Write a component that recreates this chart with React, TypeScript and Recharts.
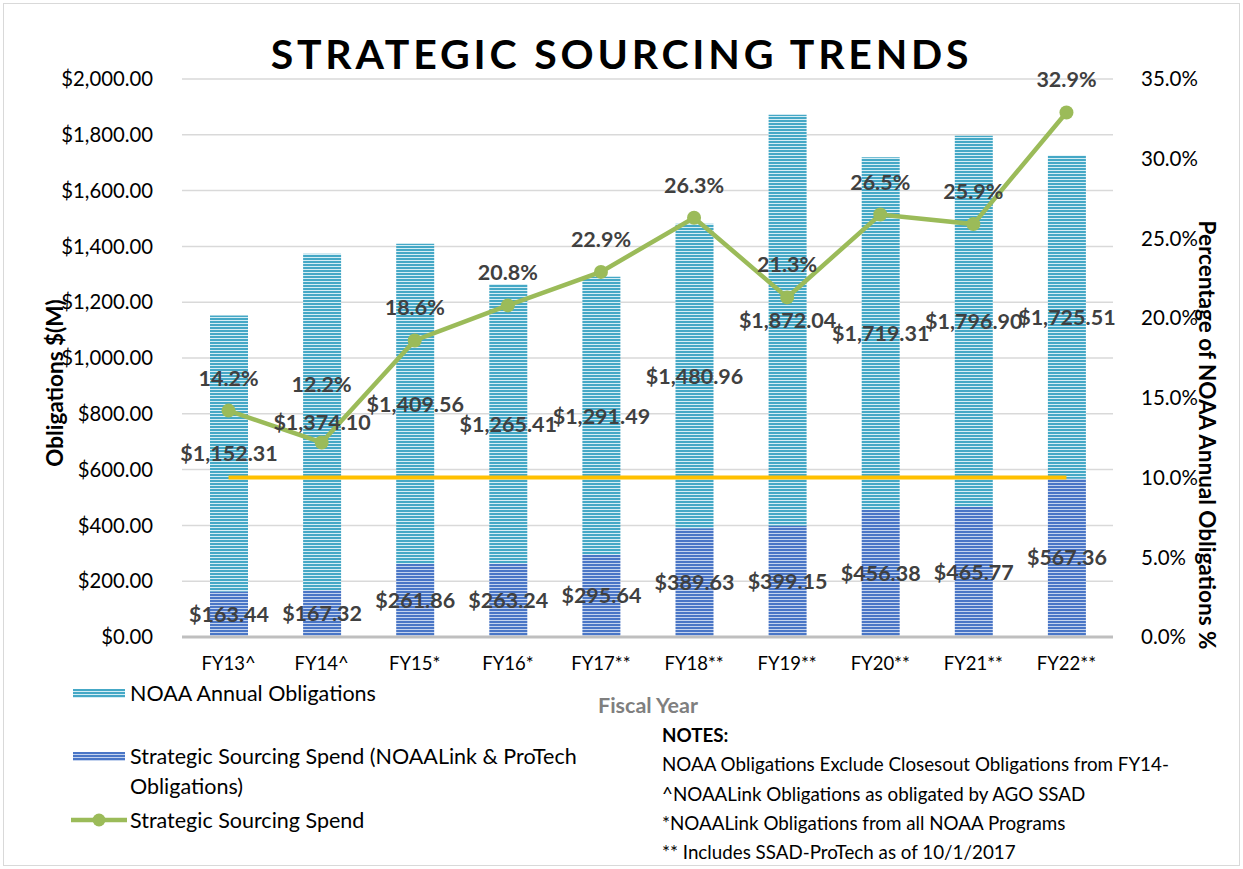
import React from "react";
import {
  ComposedChart,
  Bar,
  Line,
  XAxis,
  YAxis,
  CartesianGrid,
  LabelList,
} from "recharts";

const categories = ["FY13^", "FY14^", "FY15*", "FY16*", "FY17**", "FY18**", "FY19**", "FY20**", "FY21**", "FY22**"];
const annualObligations = [1152.31, 1374.1, 1409.56, 1265.41, 1291.49, 1480.96, 1872.04, 1719.31, 1796.9, 1725.51];
const sourcingSpend = [163.44, 167.32, 261.86, 263.24, 295.64, 389.63, 399.15, 456.38, 465.77, 567.36];
const sourcingPct = [14.2, 12.2, 18.6, 20.8, 22.9, 26.3, 21.3, 26.5, 25.9, 32.9];
const goalPct = [10, 10, 10, 10, 10, 10, 10, 10, 10, 10];

const leftTicks = [0, 200, 400, 600, 800, 1000, 1200, 1400, 1600, 1800, 2000];
const rightTicks = [0, 5, 10, 15, 20, 25, 30, 35];

const notes = [
  "NOAA Obligations Exclude Closesout Obligations from FY14-",
  "^NOAALink Obligations as obligated by AGO SSAD",
  "*NOAALink Obligations from all NOAA Programs",
  "** Includes SSAD-ProTech as of 10/1/2017",
];

// bar stack: sourcing at the bottom, rest of annual obligations on top
const chartData = categories.map((name, i) => ({
  name,
  sourcing: sourcingSpend[i],
  rest: annualObligations[i] - sourcingSpend[i],
  pct: sourcingPct[i],
  goal: goalPct[i],
}));

const W = 1243;
const H = 869;
const PLOT_TOP = 79;
const PLOT_BOTTOM = 637;
const LEFT_MAX = 2000;

const FONT = "Lato, 'Open Sans', sans-serif";
const LABEL_COLOR = "#404040";
const LABEL_SIZE = 21.5;

const money = (v: number) =>
  "$" + v.toLocaleString("en-US", { minimumFractionDigits: 2, maximumFractionDigits: 2 });

const leftToPx = (v: number) => PLOT_BOTTOM - (v / LEFT_MAX) * (PLOT_BOTTOM - PLOT_TOP);

const TotalLabel = (props: any) => {
  const { x, y, width, height, index } = props;
  return (
    <text
      x={x + width / 2}
      y={y + height / 2}
      textAnchor="middle"
      dominantBaseline="central"
      fontFamily={FONT}
      fontWeight="bold"
      fontSize={LABEL_SIZE}
      fill={LABEL_COLOR}
    >
      {money(annualObligations[index])}
    </text>
  );
};

// percent label above the point, pushed up if it would sit on the total label
const PctLabel = (props: any) => {
  const { x, y, index } = props;
  let cy = y - 33;
  const totalY = leftToPx((annualObligations[index] + sourcingSpend[index]) / 2);
  if (Math.abs(cy - totalY) < 26) cy = totalY - 38;
  return (
    <text
      x={x}
      y={cy}
      textAnchor="middle"
      dominantBaseline="central"
      fontFamily={FONT}
      fontWeight="bold"
      fontSize={LABEL_SIZE}
      fill={LABEL_COLOR}
    >
      {`${sourcingPct[index].toFixed(1)}%`}
    </text>
  );
};

const Swatch = ({ pattern }: { pattern: string }) => (
  <svg width={52} height={9} style={{ display: "block" }}>
    <rect width={52} height={9} fill={`url(#${pattern})`} />
  </svg>
);

const legendText: React.CSSProperties = {
  position: "absolute",
  left: 130,
  fontSize: 21.5,
  color: "#000",
  lineHeight: "30px",
  whiteSpace: "nowrap",
};

export default function App() {
  return (
    <div
      style={{
        position: "absolute",
        left: 0,
        top: 0,
        width: W,
        height: H,
        background: "#fff",
        fontFamily: FONT,
      }}
    >
      <svg width={0} height={0} style={{ position: "absolute" }}>
        <defs>
          <pattern id="stripeLight" width={4} height={3} patternUnits="userSpaceOnUse">
            <rect width={4} height={3} fill="#45A8C6" />
            <rect y={2} width={4} height={1} fill="#D6EEF5" />
          </pattern>
          <pattern id="stripeDark" width={4} height={3} patternUnits="userSpaceOnUse">
            <rect width={4} height={3} fill="#4A76C6" />
            <rect y={2} width={4} height={1} fill="#C4D3EE" />
          </pattern>
        </defs>
      </svg>

      <div
        style={{
          position: "absolute",
          left: 3,
          top: 3,
          width: 1235,
          height: 861,
          border: "1.5px solid #D9D9D9",
        }}
      />

      <ComposedChart
        width={W}
        height={H}
        data={chartData}
        margin={{ top: PLOT_TOP, right: 0, left: 0, bottom: H - PLOT_BOTTOM - 30 }}
        barSize={38}
      >
        <CartesianGrid yAxisId="left" vertical={false} stroke="#D9D9D9" strokeWidth={1.5} />
        <XAxis
          dataKey="name"
          height={30}
          tickLine={false}
          tickSize={0}
          tickMargin={20}
          axisLine={{ stroke: "#BFBFBF", strokeWidth: 3 }}
          tick={{ fill: "#000", fontSize: 18.5, fontFamily: FONT }}
        />
        <YAxis
          yAxisId="left"
          width={182}
          domain={[0, LEFT_MAX]}
          ticks={leftTicks}
          axisLine={false}
          tickLine={false}
          tickMargin={23}
          tickFormatter={money}
          tick={{ fill: "#000", fontSize: 20.3, fontFamily: FONT }}
        />
        <YAxis
          yAxisId="right"
          orientation="right"
          width={130}
          domain={[0, 35]}
          ticks={rightTicks}
          axisLine={false}
          tickLine={false}
          tickMargin={22}
          tickFormatter={(v: number) => `${v.toFixed(1)}%`}
          tick={{ fill: "#000", fontSize: 20.5, fontFamily: FONT, textAnchor: "start" }}
        />
        <Bar yAxisId="left" dataKey="sourcing" stackId="a" fill="url(#stripeDark)" isAnimationActive={false}>
          <LabelList
            dataKey="sourcing"
            position="center"
            formatter={(v: any) => money(Number(v))}
            style={{ fontFamily: FONT, fontWeight: "bold", fontSize: LABEL_SIZE, fill: LABEL_COLOR }}
          />
        </Bar>
        <Bar yAxisId="left" dataKey="rest" stackId="a" fill="url(#stripeLight)" isAnimationActive={false}>
          <LabelList dataKey="rest" content={TotalLabel} />
        </Bar>
        <Line
          yAxisId="right"
          dataKey="goal"
          stroke="#FFC000"
          strokeWidth={4}
          dot={false}
          isAnimationActive={false}
        />
        <Line
          yAxisId="right"
          dataKey="pct"
          stroke="#9BBB59"
          strokeWidth={4.5}
          dot={{ r: 7, fill: "#9BBB59", stroke: "#9BBB59", strokeWidth: 0 }}
          isAnimationActive={false}
        >
          <LabelList dataKey="pct" content={PctLabel} />
        </Line>
      </ComposedChart>

      {/* title */}
      <div
        style={{
          position: "absolute",
          left: 0,
          width: W,
          top: 30,
          textAlign: "center",
          fontSize: 41,
          fontWeight: "bold",
          letterSpacing: 3.8,
          color: "#000",
          lineHeight: "48px",
        }}
      >
        STRATEGIC SOURCING TRENDS
      </div>

      {/* left axis title */}
      <div
        style={{
          position: "absolute",
          left: 54,
          top: 383,
          transform: "translate(-50%, -50%) rotate(-90deg)",
          whiteSpace: "nowrap",
          fontSize: 22.5,
          fontWeight: "bold",
          color: "#000",
        }}
      >
        Obligations $(M)
      </div>

      {/* right axis title */}
      <div
        style={{
          position: "absolute",
          left: 1207,
          top: 435,
          transform: "translate(-50%, -50%) rotate(90deg)",
          whiteSpace: "nowrap",
          fontSize: 22.5,
          fontWeight: "bold",
          color: "#000",
        }}
      >
        Percentage of NOAA Annual Obligations %
      </div>

      {/* x axis title */}
      <div
        style={{
          position: "absolute",
          left: 598,
          top: 692,
          fontSize: 21.5,
          fontWeight: "bold",
          color: "#7F7F7F",
        }}
      >
        Fiscal Year
      </div>

      {/* legend */}
      <div style={{ position: "absolute", left: 73, top: 689 }}>
        <Swatch pattern="stripeLight" />
      </div>
      <div style={{ ...legendText, top: 678 }}>NOAA Annual Obligations</div>

      <div style={{ position: "absolute", left: 73, top: 752 }}>
        <Swatch pattern="stripeDark" />
      </div>
      <div style={{ ...legendText, top: 741 }}>
        Strategic Sourcing Spend (NOAALink &amp; ProTech
        <br />
        Obligations)
      </div>

      <svg width={56} height={16} style={{ position: "absolute", left: 71, top: 812 }}>
        <line x1={0} y1={8} x2={56} y2={8} stroke="#9BBB59" strokeWidth={4.5} />
        <circle cx={28} cy={8} r={6.5} fill="#9BBB59" />
      </svg>
      <div style={{ ...legendText, top: 805 }}>Strategic Sourcing Spend</div>

      {/* notes */}
      <div
        style={{
          position: "absolute",
          left: 662,
          top: 720,
          width: 578,
          overflow: "hidden",
          whiteSpace: "nowrap",
          fontSize: 18.8,
          color: "#000",
          lineHeight: "29.3px",
        }}
      >
        <div style={{ fontWeight: "bold" }}>NOTES:</div>
        {notes.map((n) => (
          <div key={n}>{n}</div>
        ))}
      </div>
    </div>
  );
}
